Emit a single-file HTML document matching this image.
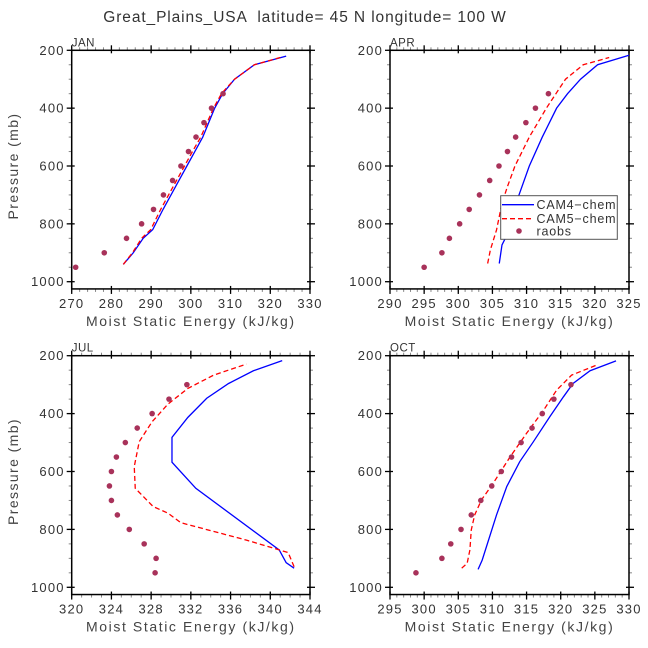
<!DOCTYPE html>
<html><head><meta charset="utf-8">
<style>
body{margin:0;background:#fff;}
svg{display:block;font-family:"Liberation Sans",sans-serif;}
text{white-space:pre;}
</style></head>
<body>
<svg id="chart" width="648" height="648" viewBox="0 0 648 648" xmlns="http://www.w3.org/2000/svg">
<text x="305" y="22" text-anchor="middle" font-size="15.5" letter-spacing="0.9" fill="#333" xml:space="preserve">Great_Plains_USA  latitude= 45 N longitude= 100 W</text>
</svg>
<script>
// ---- data ----
const panelNames=["JAN","APR","JUL","OCT"];
const xDomains=[[270,330],[290,325],[320,344],[295,330]];
const xTickStep=[10,5,4,5];
const xMinorStep=[2,1,1,1];
const cam4P=[
 [940,900,850,820,750,700,650,600,550,500,450,400,350,300,250,220],
 [937,873,821,706,600,500,400,350,300,250,217],
 [934,915,871,658,568,482,413,347,296,252,217],
 [938,906,750,652,566,497,411,342,296,252,218]];
const cam4X=[
 [283,285.5,288,290.4,293,295,297,299,301,303,304.5,306,308,311,316,324],
 [306,306.4,307.5,308.8,310.4,312.3,314.4,316,317.9,320.4,325],
 [342.4,341.6,340.9,332.5,330.1,330.1,331.7,333.6,335.8,338.3,341.2],
 [307.9,308.5,310.6,312.1,314,316,318.4,320.4,321.8,324.3,328.1]];
const cam5P=[
 [940,900,850,820,750,700,650,600,550,500,450,400,350,300,250,225],
 [937,890,821,729,671,600,500,400,350,300,250,225],
 [929,880,837,777,744,721,658,583,497,428,367,313,267,229],
 [934,917,871,802,750,698,641,549,468,388,319,267,230]];
const cam5X=[
 [283,285.3,287.6,289.9,292.4,294.4,296.4,298.4,300.4,302.5,304.1,305.7,307.7,311,316,322.5],
 [304.3,304.7,305.6,306.4,307.2,308.3,310.4,312.9,314.3,315.7,318.3,322.1],
 [342.4,341.8,337.6,331.0,329.7,328.2,326.4,326.3,326.8,328.1,329.7,331.7,334.3,337.6],
 [305.5,306.3,306.7,306.9,307.4,308.4,310.1,312.6,315,317.5,319.4,321.6,325.5]];
const obsP=[
 [950,900,850,800,750,700,650,600,550,500,450,400,350],
 [950,900,850,800,750,700,650,600,550,500,450,400,350],
 [950,900,850,800,750,700,650,600,550,500,450,400,350,300],
 [950,900,850,800,750,700,650,600,550,500,450,400,350,300]];
const obsX=[
 [271,278.2,283.8,287.6,290.6,293.1,295.4,297.5,299.4,301.3,303.3,305.2,308.1],
 [295.0,297.6,298.7,300.2,301.6,303.1,304.6,305.96,307.2,308.4,309.9,311.3,313.2],
 [328.4,328.5,327.3,325.8,324.6,324.0,323.8,324.0,324.5,325.4,326.6,328.1,329.8,331.6],
 [298.8,302.6,303.9,305.4,306.9,308.3,309.9,311.3,312.8,314.2,315.8,317.3,319.0,321.5]];
const yTicks=[200,400,600,800,1000];
// ---- layout ----
const NS="http://www.w3.org/2000/svg";
const svg=document.getElementById("chart");
const boxes=[{l:71.7,r:310,t:50.3,y1000:281.7},{l:390,r:629,t:50.3,y1000:281.7},
             {l:71.7,r:310,t:355.7,y1000:587.3},{l:390,r:629,t:355.7,y1000:587.3}];
function mk(tag,attrs,parent){const e=document.createElementNS(NS,tag);for(const k in attrs)e.setAttribute(k,attrs[k]);(parent||svg).appendChild(e);return e;}
panelNames.forEach((name,i)=>{
  const b=boxes[i];const d=xDomains[i];
  const g=mk("g",{});
  
  
  const sx=v=>b.l+(v-d[0])/(d[1]-d[0])*(b.r-b.l);
  const sy=p=>b.t+(p-200)/800*(b.y1000-b.t);
  const bottom=sy(1025);
  for(let v=d[0];v<=d[1]+1e-9;v+=xMinorStep[i]){const x=sx(v);
    const t1=mk("line",{x1:x,x2:x,y1:b.t,y2:b.t-3,stroke:"#888","stroke-width":1},g);
    
    const t2=mk("line",{x1:x,x2:x,y1:bottom,y2:bottom+3,stroke:"#888","stroke-width":1},g);
    }
  for(let p=200;p<=1000;p+=50){const y=sy(p);
    const t1=mk("line",{x1:b.l,x2:b.l-3,y1:y,y2:y,stroke:"#888","stroke-width":1},g);
    
    const t2=mk("line",{x1:b.r,x2:b.r+3,y1:y,y2:y,stroke:"#888","stroke-width":1},g);
    }
  for(let v=d[0];v<=d[1]+1e-9;v+=xTickStep[i]){const x=sx(v);
    const t1=mk("line",{x1:x,x2:x,y1:b.t-5,y2:b.t+3,stroke:"#000","stroke-width":1.3},g);
    
    const t2=mk("line",{x1:x,x2:x,y1:bottom-3,y2:bottom+5,stroke:"#000","stroke-width":1.3},g);
    
    const lb=mk("text",{x:x,y:bottom+19,"text-anchor":"middle","font-size":13,"letter-spacing":1.2,fill:"#333"},g);
    
    lb.textContent=String(v);}
  yTicks.forEach(p=>{const y=sy(p);
    const t1=mk("line",{x1:b.l-5,x2:b.l+3,y1:y,y2:y,stroke:"#000","stroke-width":1.3},g);
    
    const t2=mk("line",{x1:b.r-3,x2:b.r+5,y1:y,y2:y,stroke:"#000","stroke-width":1.3},g);
    
    const lb=mk("text",{x:b.l-7,y:y+4.5,"text-anchor":"end","font-size":13,"letter-spacing":1.2,fill:"#333"},g);
    
    lb.textContent=String(p);});
  const fr=mk("rect",{x:b.l,y:b.t,width:b.r-b.l,height:bottom-b.t,fill:"none",stroke:"#000","stroke-width":1.5},g);
  
  const pl=mk("text",{x:b.l,y:b.t-4,"font-size":11.5,"letter-spacing":0.5,fill:"#333"},g);
  
  pl.textContent=name;
  const xl=mk("text",{x:(b.l+b.r)/2,y:bottom+37,"text-anchor":"middle","font-size":14,"letter-spacing":1.6,fill:"#444"},g);
  
  xl.textContent="Moist Static Energy (kJ/kg)";
  if(i%2===0){const yc=(b.t+b.y1000)/2;const yl=mk("text",{x:0,y:0,"text-anchor":"middle","font-size":14,"letter-spacing":1.4,fill:"#444",transform:`translate(18,${yc}) rotate(-90)`},g);
    
    yl.textContent="Pressure (mb)";}
  const l4=mk("polyline",{points:cam4P[i].map((p,k)=>sx(cam4X[i][k])+","+sy(p)).join(" "),fill:"none",stroke:"#0000ff","stroke-width":1.3},g);
  
  const l5=mk("polyline",{points:cam5P[i].map((p,k)=>sx(cam5X[i][k])+","+sy(p)).join(" "),fill:"none",stroke:"#ff0000","stroke-width":1.3,"stroke-dasharray":"5,3"},g);
  
  obsP[i].forEach((p,k)=>{const c=mk("circle",{cx:sx(obsX[i][k]),cy:sy(p),r:2.8,fill:"#a8325a"},g);
    });
});
const lg=mk("g",{});


const lr=mk("rect",{x:500.7,y:195.7,width:116.6,height:43.6,fill:"#fff",stroke:"#555","stroke-width":1},lg);

const e1=mk("line",{x1:502,x2:534,y1:204.7,y2:204.7,stroke:"#0000ff","stroke-width":1.3},lg);

const e2=mk("line",{x1:502,x2:534,y1:218.7,y2:218.7,stroke:"#ff0000","stroke-width":1.3,"stroke-dasharray":"5,3"},lg);

const e3=mk("circle",{cx:519,cy:231,r:2.8,fill:"#a8325a"},lg);

[["CAM4−chem",209.2],["CAM5−chem",223.2],["raobs",235.5]].forEach(([t,y])=>{
  const tx=mk("text",{x:536.5,y:y,"font-size":12.5,"letter-spacing":0.8,fill:"#333"},lg);
  
  tx.textContent=t;});
</script>
</body></html>
